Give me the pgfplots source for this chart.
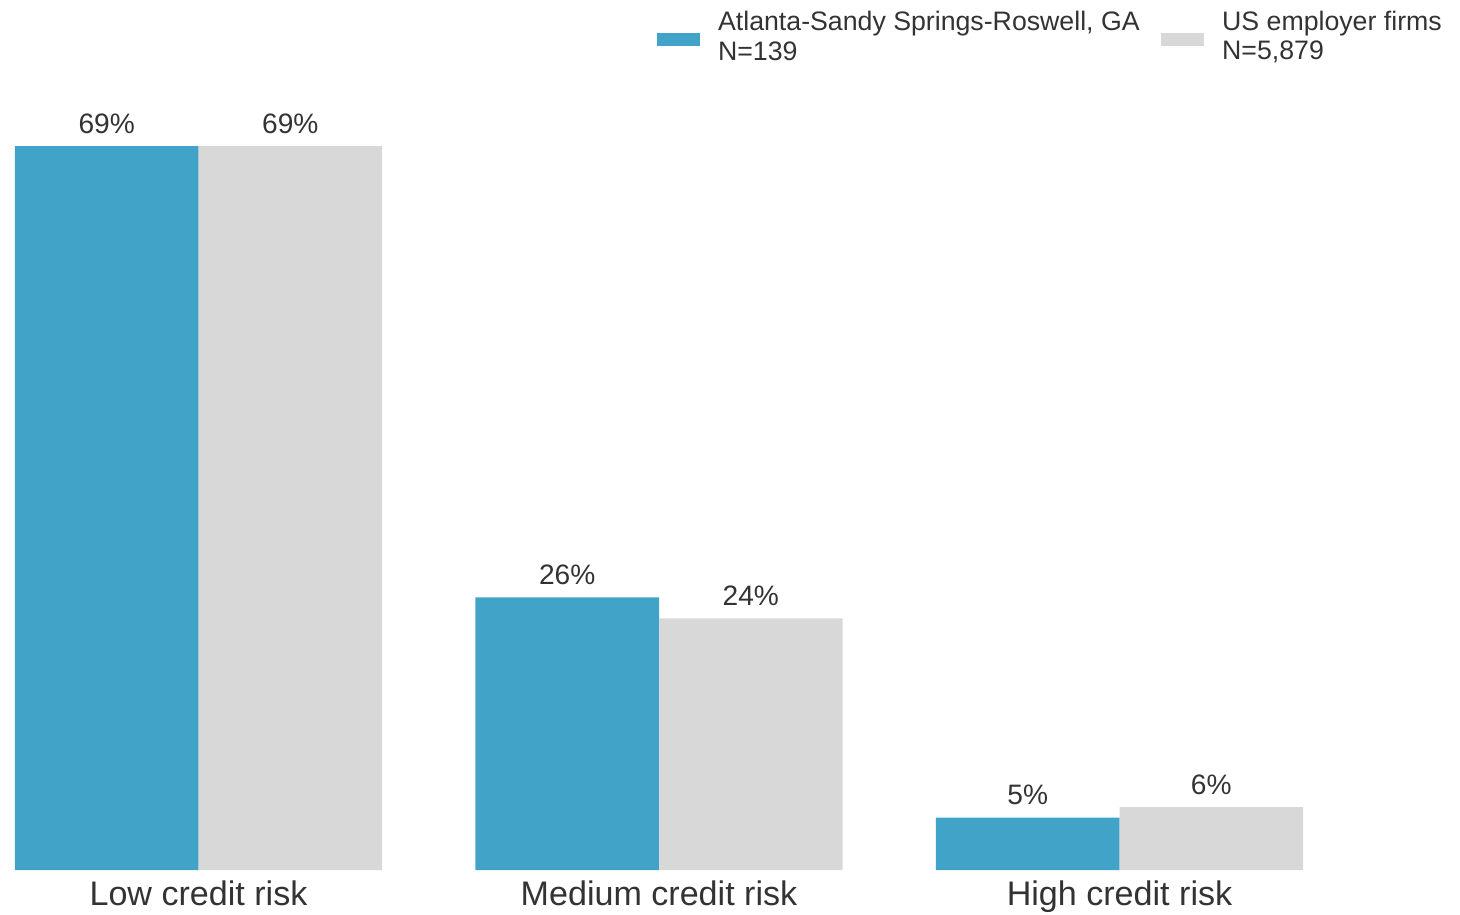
\documentclass[border=0pt]{standalone}
\usepackage{pgfplots}
\pgfplotsset{compat=1.18}
\usepackage{fontspec}
\setmainfont{Liberation Sans}
\definecolor{atlblue}{HTML}{42A3C8}
\definecolor{usgray}{HTML}{D8D8D8}
\definecolor{txt}{HTML}{333333}

\begin{document}
\begin{tikzpicture}
\begin{axis}[
    scale only axis,
    width=128.94mm, height=83.92mm,
    xmin=-0.4, xmax=2.4,
    ymin=0, ymax=80,
    ybar=0pt, bar width=0.3985,
    axis line style={draw=none},
    ytick=\empty,
    xtick={0,1,2},
    xticklabels={Low credit risk, Medium credit risk, High credit risk},
    major tick length=0pt,
    xticklabel style={font=\fontsize{9.7}{11}\selectfont, text=txt, anchor=base, yshift=-3.5mm},
    nodes near coords={\pgfmathprintnumber[assume math mode=true]{\pgfplotspointmeta}\%},
    every node near coord/.append style={font=\fontsize{8}{9}\selectfont, text=txt, anchor=base, yshift=1.3mm},
    clip=false,
    legend columns=2,
    legend image code/.code={\fill[#1] (0mm,-1.6mm) rectangle (4.3mm,-0.3mm);},
    legend style={draw=none, fill=none, inner sep=0pt, outer sep=0pt,
        at={(axis description cs:0.4985,1.001)}, anchor=west,
        font=\fontsize{7.6}{8.5}\selectfont, text=txt,
        cells={anchor=west, inner sep=0pt},
        /tikz/every odd column/.append style={column sep=1.1mm},
        /tikz/every even column/.append style={column sep=0.8mm}},
]
\addplot[fill=atlblue, draw=none] coordinates {(0,69) (1,26) (2,5)};
\addlegendentry{\parbox[c]{42.8mm}{\raggedright Atlanta-Sandy Springs-Roswell, GA\\N=139}}
\addplot[fill=usgray, draw=none] coordinates {(0,69) (1,24) (2,6)};
\addlegendentry{\parbox[c]{22.8mm}{\raggedright US employer firms\\N=5,879}}
\end{axis}
\pgfresetboundingbox
\path[use as bounding box] (-1.43mm,-4.4mm) rectangle (144.57mm,87mm);
\end{tikzpicture}
\end{document}
